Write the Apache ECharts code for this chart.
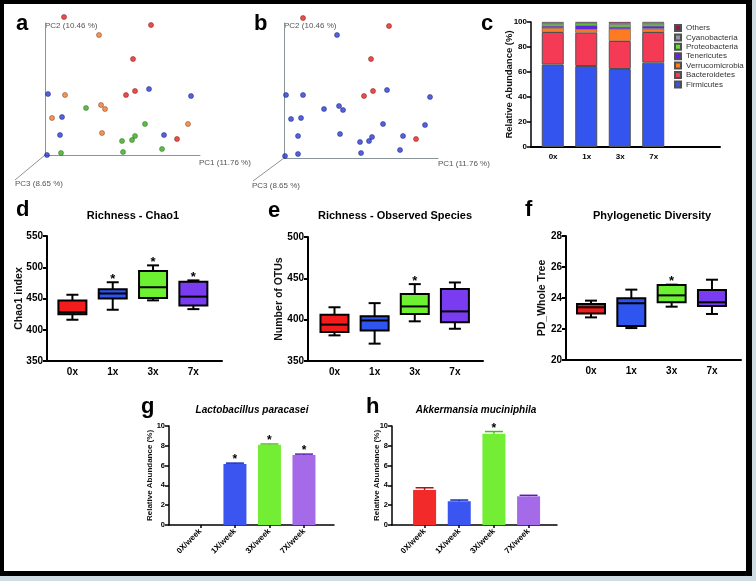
<!DOCTYPE html>
<html>
<head>
<meta charset="utf-8">
<title>Gut microbiota panels</title>
<script src="https://cdn.jsdelivr.net/npm/echarts@6/dist/echarts.min.js"></script>
<style>
  body { margin: 0; background: #cfdde3; }
  #frame { position: absolute; left: 0; top: 0; width: 752px; height: 576px; box-sizing: border-box;
           background: #fff; border-style: solid; border-color: #000; border-width: 4px 6px 5px 4px; }
  #main { position: absolute; left: 0; top: 0; width: 756px; height: 581px; }
</style>
</head>
<body>
<div id="frame"></div>
<div id="main"></div>
<script>
var FONT = '"Liberation Sans", Arial, sans-serif';

// a / b: PCoA scores, in plot units (PC1 across, PC2 up)
var aRed    = [[19,138],[106,130],[88,96],[90,64],[81,60],[132,16]];
var aOrange = [[54,120],[20,60],[56,50],[60,46],[7,37],[57,22],[143,31]];
var aBlue   = [[3,61],[104,66],[146,59],[17,38],[15,20],[119,20],[2,0]];
var aGreen  = [[41,47],[100,31],[90,19],[87,15],[77,14],[16,2],[78,3],[117,6]];
var bRed    = [[19,140],[105,132],[87,99],[89,67],[80,62],[132,19]];
var bBlue   = [[53,123],[2,63],[19,63],[103,68],[146,61],[40,49],[55,52],[59,48],[7,39],[17,40],
               [99,34],[141,33],[14,22],[56,24],[88,21],[85,17],[76,16],[119,22],[116,8],[77,5],[1,2],[14,4]];

// c: relative abundance of phyla (%)
var groups = ['0x', '1x', '3x', '7x'];
var phyla = ['Firmicutes', 'Bacteroidetes', 'Verrucomicrobia', 'Tenericutes', 'Proteobacteria', 'Cyanobacteria', 'Others'];
var firmicutes      = [66.1, 64.8, 62.4, 67.5];
var bacteroidetes   = [25.9, 26.7, 22.4, 24.5];
var verrucomicrobia = [3.2, 2.6, 9.6, 2.7];
var tenericutes     = [1.6, 3.2, 1.6, 2.1];
var proteobacteria  = [1.6, 1.6, 1.9, 1.6];
var cyanobacteria   = [1.0, 0.6, 1.0, 1.1];
var others          = [0.6, 0.5, 1.1, 0.5];
var phylaValues = [firmicutes, bacteroidetes, verrucomicrobia, tenericutes, proteobacteria, cyanobacteria, others];
var phylaColors = ['#3454f0', '#f53a55', '#ff7b22', '#6420f0', '#5ee62a', '#8f98a3', '#8a1b50'];

// d-f: box plots [min, Q1, median, Q3, max]
var chaoBox = [[416, 425, 428, 447, 456], [432, 450, 458, 465, 476], [447, 451, 468, 494, 503], [433, 439, 453, 477, 479]];
var otuBox  = [[381, 385, 394, 406, 415], [371, 387, 399, 404, 420], [398, 407, 416, 431, 443], [389, 397, 410, 437, 445]];
var pdBox   = [[22.75, 23.0, 23.4, 23.62, 23.83], [22.06, 22.19, 23.66, 23.98, 24.54], [23.44, 23.72, 24.17, 24.84, 24.86], [22.97, 23.48, 23.72, 24.52, 25.18]];
var chaoStars = [1, 2, 3];
var otuStars = [2];
var pdStars = [2];

// g-h: mean relative abundance (%) and SEM
var weekLabels = ['0X/week', '1X/week', '3X/week', '7X/week'];
var lactoMean = [0, 6.15, 8.1, 7.08];
var lactoErr  = [0, 0.1, 0.08, 0.08];
var akkMean   = [3.54, 2.4, 9.22, 2.9];
var akkErr    = [0.22, 0.12, 0.22, 0.1];
var lactoStars = [1, 2, 3];
var akkStars = [2];

var boxColors = ['#f21c1c', '#2f55f0', '#6ef032', '#7a3cf0'];
var barColors = ['#f22a2a', '#3a55f0', '#74ee34', '#a46ae8'];

var chart = echarts.init(document.getElementById('main'));

function txt(x, y, s, font, align, color) {
  return { type: 'text', x: x, y: y, silent: true,
    style: { text: s, font: font, fill: color || '#000', textAlign: align || 'left', textVerticalAlign: 'middle',
             align: align || 'left', verticalAlign: 'middle' } };
}
function seg(x1, y1, x2, y2) {
  return { type: 'line', silent: true, shape: { x1: x1, y1: y1, x2: x2, y2: y2 }, style: { stroke: '#8a9599', lineWidth: 1 } };
}

function pcAxis(gi, max) {
  return { type: 'value', gridIndex: gi, min: 0, max: max,
    axisLine: { onZero: false, lineStyle: { color: '#8a9599', width: 1 } },
    axisTick: { show: false }, axisLabel: { show: false }, splitLine: { show: false } };
}
function slotAxis(gi, min, max, labels, fs, rotate) {
  var small = !!rotate;
  return { type: 'value', gridIndex: gi, min: min, max: max, splitLine: { show: false },
    axisLine: { onZero: false, lineStyle: { color: '#000', width: small ? 1.5 : 2 } },
    axisTick: { show: small, customValues: [0, 1, 2, 3], length: 3, lineStyle: { color: '#000', width: 1.5 } },
    axisLabel: { customValues: [0, 1, 2, 3], formatter: function (v) { return labels[Math.round(v)]; },
      rotate: rotate || 0, margin: small ? 5 : 6, color: '#000', fontWeight: 'bold',
      fontSize: fs, fontFamily: FONT } };
}
function valAxis(gi, min, max, step, name, gap, fs, nfs, lw) {
  return { type: 'value', gridIndex: gi, min: min, max: max, interval: step,
    name: name, nameLocation: 'middle', nameGap: gap, nameMoveOverlap: false,
    nameTextStyle: { fontWeight: 'bold', fontSize: nfs, fontFamily: FONT, color: '#111' },
    splitLine: { show: false },
    axisLine: { show: true, onZero: false, lineStyle: { color: '#000', width: lw } },
    axisTick: { show: true, length: 4, lineStyle: { color: '#000', width: lw } },
    axisLabel: { color: '#000', fontWeight: 'bold', fontSize: fs, fontFamily: FONT, margin: 4 } };
}
function hiddenAxis(gi, type, extra) {
  var ax = { type: type, gridIndex: gi, show: false };
  for (var k in extra) ax[k] = extra[k];
  return ax;
}

function boxRender(params, api) {
  var i = api.value(0);
  var pMin = api.coord([i, api.value(1)]);
  var pQ1 = api.coord([i, api.value(2)]);
  var pMed = api.coord([i, api.value(3)]);
  var pQ3 = api.coord([i, api.value(4)]);
  var pMax = api.coord([i, api.value(5)]);
  var x = pMin[0], hw = 14, cw = 6;
  var ls = { stroke: '#000', lineWidth: 2 };
  return { type: 'group', children: [
    { type: 'line', shape: { x1: x, y1: pMax[1], x2: x, y2: pQ3[1] }, style: ls },
    { type: 'line', shape: { x1: x, y1: pQ1[1], x2: x, y2: pMin[1] }, style: ls },
    { type: 'line', shape: { x1: x - cw, y1: pMax[1], x2: x + cw, y2: pMax[1] }, style: ls },
    { type: 'line', shape: { x1: x - cw, y1: pMin[1], x2: x + cw, y2: pMin[1] }, style: ls },
    { type: 'rect', shape: { x: x - hw, y: pQ3[1], width: 2 * hw, height: pQ1[1] - pQ3[1] },
      style: { fill: boxColors[i], stroke: '#000', lineWidth: 2 } },
    { type: 'line', shape: { x1: x - hw, y1: pMed[1], x2: x + hw, y2: pMed[1] }, style: ls }
  ] };
}
function starRender(size, lift) {
  return function (params, api) {
    var p = api.coord([api.value(0), api.value(1)]);
    return { type: 'text', x: p[0], y: p[1] - lift,
      style: { text: '*', font: 'bold ' + size + 'px ' + FONT, fill: '#000',
               textAlign: 'center', textVerticalAlign: 'middle', align: 'center', verticalAlign: 'middle' } };
  };
}
function errRender(params, api) {
  var i = api.value(0), m = api.value(1), e = api.value(2);
  if (m <= 0) return null;
  var top = api.coord([i, m]), hi = api.coord([i, m + e]);
  var c = echarts.color.modifyHSL(barColors[i], null, null, 0.4);
  return { type: 'group', children: [
    { type: 'line', shape: { x1: top[0], y1: top[1], x2: hi[0], y2: hi[1] }, style: { stroke: c, lineWidth: 1.5 } },
    { type: 'line', shape: { x1: hi[0] - 9, y1: hi[1], x2: hi[0] + 9, y2: hi[1] }, style: { stroke: c, lineWidth: 1.5 } }
  ] };
}

var grids = [
  { left: 45, top: 23, width: 155, height: 132 },   // 0 a
  { left: 284, top: 23, width: 154, height: 135 },  // 1 b
  { left: 531, top: 22, width: 189, height: 125 },  // 2 c frame
  { left: 47, top: 236, width: 175, height: 125 },  // 3 d
  { left: 308, top: 237, width: 175, height: 124 }, // 4 e
  { left: 566, top: 236, width: 175, height: 124 }, // 5 f
  { left: 169, top: 426, width: 165, height: 99 },  // 6 g
  { left: 392, top: 426, width: 165, height: 99 },  // 7 h
  { left: 536, top: 22, width: 134, height: 125 }   // 8 c stacked bars
];

var xAxes = [
  pcAxis(0, 155), pcAxis(1, 154),
  slotAxis(2, -0.66, 4.98, groups, 8),
  slotAxis(3, -0.63, 3.71, groups, 10),
  slotAxis(4, -0.66, 3.7, groups, 10),
  slotAxis(5, -0.62, 3.72, groups, 10),
  slotAxis(6, -0.91, 3.87, weekLabels, 8, 45),
  slotAxis(7, -0.94, 3.82, weekLabels, 8, 45),
  hiddenAxis(8, 'category', { data: groups })
];
var yAxes = [
  pcAxis(0, 132), pcAxis(1, 135),
  valAxis(2, 0, 100, 20, 'Relative Abundance (%)', 17, 8, 9.5, 1.5),
  valAxis(3, 350, 550, 50, 'Chao1 index', 22, 10, 10.5, 2),
  valAxis(4, 350, 500, 50, 'Number of OTUs', 23, 10, 10.5, 2),
  valAxis(5, 20, 28, 2, 'PD_Whole Tree', 18, 10, 10.5, 2),
  valAxis(6, 0, 10, 2, 'Relative Abundance (%)', 15, 7.5, 8, 1.5),
  valAxis(7, 0, 10, 2, 'Relative Abundance (%)', 11, 7.5, 8, 1.5),
  hiddenAxis(8, 'value', { min: 0, max: 100 })
];

var series = [];
function pcSeries(gi, pts, color) {
  series.push({ type: 'scatter', xAxisIndex: gi, yAxisIndex: gi, data: pts, symbolSize: 5, clip: false,
    itemStyle: { color: color, borderColor: echarts.color.modifyHSL(color, null, null, 0.25), borderWidth: 0.6 } });
}
pcSeries(0, aRed, '#e8201c'); pcSeries(0, aOrange, '#f07a30'); pcSeries(0, aBlue, '#2a3ad8'); pcSeries(0, aGreen, '#38a820');
pcSeries(1, bRed, '#e8201c'); pcSeries(1, bBlue, '#2a3ad8');

phyla.forEach(function (name, k) {
  series.push({ type: 'bar', name: name, xAxisIndex: 8, yAxisIndex: 8, stack: 'phyla', barWidth: 22,
    data: phylaValues[k],
    itemStyle: { color: phylaColors[k], borderColor: '#505050', borderWidth: k < 2 ? 1 : 0.5 } });
});

[[3, chaoBox, chaoStars], [4, otuBox, otuStars], [5, pdBox, pdStars]].forEach(function (p) {
  series.push({ type: 'custom', xAxisIndex: p[0], yAxisIndex: p[0], renderItem: boxRender, clip: false,
    encode: { x: 0, y: [1, 2, 3, 4, 5] },
    data: p[1].map(function (b, i) { return [i].concat(b); }) });
  series.push({ type: 'custom', xAxisIndex: p[0], yAxisIndex: p[0], renderItem: starRender(13, 3), clip: false,
    encode: { x: 0, y: 1 },
    data: p[2].map(function (i) { return [i, p[1][i][4]]; }) });
});

[[6, lactoMean, lactoErr, lactoStars], [7, akkMean, akkErr, akkStars]].forEach(function (p) {
  series.push({ type: 'bar', xAxisIndex: p[0], yAxisIndex: p[0], barWidth: 23,
    data: p[1].map(function (v, i) { return { value: [i, v], itemStyle: { color: barColors[i] } }; }) });
  series.push({ type: 'custom', xAxisIndex: p[0], yAxisIndex: p[0], renderItem: errRender, clip: false,
    encode: { x: 0, y: 1 },
    data: p[1].map(function (v, i) { return [i, v, p[2][i]]; }) });
  series.push({ type: 'custom', xAxisIndex: p[0], yAxisIndex: p[0], renderItem: starRender(12, 3), clip: false,
    encode: { x: 0, y: 1 },
    data: p[3].map(function (i) { return [i, p[1][i] + p[2][i]]; }) });
});

var L = 'bold 22px ' + FONT, T = 'bold 11px ' + FONT, TI = 'italic bold 10px ' + FONT, P = '8px ' + FONT;
var graphics = [
  txt(16, 23.5, 'a', L), txt(254, 23.5, 'b', L), txt(481, 23.5, 'c', L),
  txt(16, 210, 'd', L), txt(268, 211, 'e', L), txt(525, 210, 'f', L),
  txt(141, 407, 'g', L), txt(366, 407, 'h', L),
  txt(133, 216, 'Richness - Chao1', T, 'center'),
  txt(395, 216, 'Richness - Observed Species', T, 'center'),
  txt(652, 216, 'Phylogenetic Diversity', T, 'center'),
  txt(252, 410, 'Lactobacillus paracasei', TI, 'center'),
  txt(476, 410, 'Akkermansia muciniphila', TI, 'center'),
  txt(45, 25.5, 'PC2 (10.46 %)', P, 'left', '#555'),
  txt(199, 163, 'PC1 (11.76 %)', P, 'left', '#555'),
  txt(15, 184, 'PC3 (8.65 %)', P, 'left', '#555'),
  txt(284, 25.5, 'PC2 (10.46 %)', P, 'left', '#555'),
  txt(438, 163.5, 'PC1 (11.76 %)', P, 'left', '#555'),
  txt(252, 186, 'PC3 (8.65 %)', P, 'left', '#555'),
  seg(45, 155, 15, 180), seg(284, 158, 253, 181)
];

chart.setOption({
  animation: false,
  textStyle: { fontFamily: FONT },
  grid: grids,
  xAxis: xAxes,
  yAxis: yAxes,
  legend: { data: phyla.slice().reverse(), orient: 'vertical', left: 674, top: 24, padding: 0, icon: 'rect',
    itemWidth: 6, itemHeight: 6, itemGap: 1.4, selectedMode: false,
    textStyle: { fontSize: 8, color: '#333', fontFamily: FONT } },
  graphic: { elements: graphics },
  series: series
});
</script>
</body>
</html>
